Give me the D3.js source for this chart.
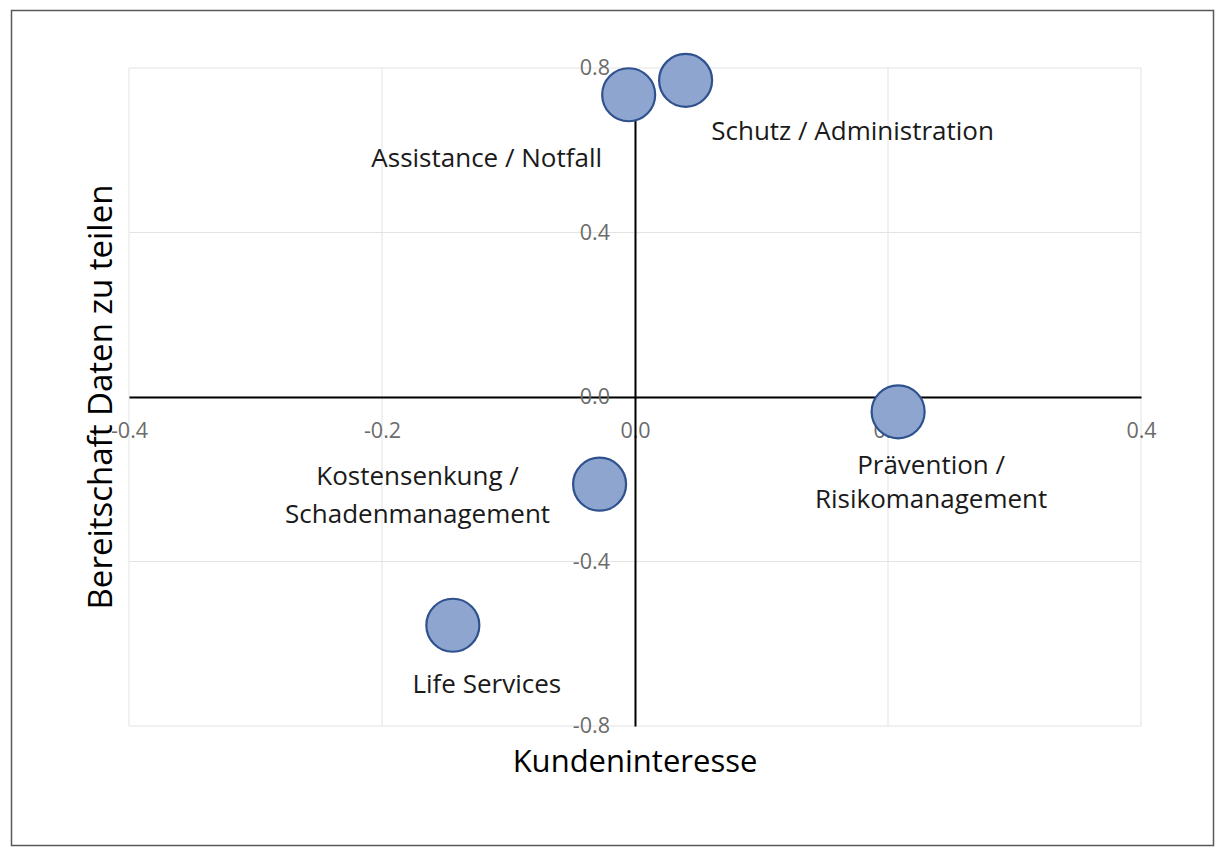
<!DOCTYPE html>
<html><head><meta charset="utf-8">
<script src="https://cdn.jsdelivr.net/npm/d3@7"></script>
<style>body{margin:0;background:#fff;} svg{display:block;font-family:"Open Sans", sans-serif;}</style>
</head><body>
<svg id="chart" width="1225" height="855"></svg>
<script>
// ---- data ----
const names = ["Assistance / Notfall","Schutz / Administration","Prävention / Risikomanagement","Kostensenkung / Schadenmanagement","Life Services"];
const xValues = [-0.005, 0.040, 0.208, -0.028, -0.144];
const yValues = [0.735, 0.770, -0.036, -0.212, -0.555];
const labelLines = [["Assistance / Notfall"],["Schutz / Administration"],["Prävention /","Risikomanagement"],["Kostensenkung /","Schadenmanagement"],["Life Services"]];
const xTicks = [-0.4,-0.2,0.0,0.2,0.4];
const yTicks = [-0.8,-0.4,0.0,0.4,0.8];

// ---- layout (label placement relative to bubble, px) ----
const labelLayout = [
  {dx:-142, dy:72, gap:0},
  {dx:167, dy:60, gap:0},
  {dx:33, dy:62, gap:34},
  {dx:-182, dy:1, gap:38},
  {dx:34, dy:68, gap:0}
];

const svg = d3.select("#chart");
const x = d3.scaleLinear().domain([-0.4,0.4]).range([129,1141]);
const y = d3.scaleLinear().domain([-0.8,0.8]).range([726,68]);

svg.append("rect").attr("x",11.5).attr("y",10.5).attr("width",1202).attr("height",835)
  .attr("fill","#fff").attr("stroke","#595959").attr("stroke-width",1.5);

// gridlines
svg.append("g").selectAll("line").data(xTicks).join("line")
  .attr("x1",d=>x(d)).attr("x2",d=>x(d)).attr("y1",y(0.8)).attr("y2",y(-0.8))
  .attr("stroke","#e3e3e3").attr("stroke-width",1);
svg.append("g").selectAll("line").data(yTicks).join("line")
  .attr("y1",d=>y(d)).attr("y2",d=>y(d)).attr("x1",x(-0.4)).attr("x2",x(0.4))
  .attr("stroke","#e3e3e3").attr("stroke-width",1);

// axes through origin
const fmt = d => d3.format(".1f")(d).replace("\u2212","-");
const xAxis = d3.axisBottom(x).tickValues(xTicks).tickFormat(fmt).tickSize(0).tickPadding(26);
const gx = svg.append("g").attr("transform",`translate(0,${y(0)})`).call(xAxis);
gx.select(".domain").attr("stroke","#000").attr("stroke-width",2);
gx.selectAll("text").attr("fill","#6b6b6b").style("font-size","21.5px").style("font-family","'Open Sans', sans-serif");

const yAxis = d3.axisLeft(y).tickValues(yTicks).tickFormat(fmt).tickSize(0).tickPadding(25);
const gy = svg.append("g").attr("transform",`translate(${x(0)},0)`).call(yAxis);
gy.select(".domain").attr("stroke","#000").attr("stroke-width",2);
gy.selectAll("text").attr("fill","#6b6b6b").style("font-size","21.5px").style("font-family","'Open Sans', sans-serif");

// bubbles
const data = names.map((n,i)=>({n, x:xValues[i], y:yValues[i], lines:labelLines[i], L:labelLayout[i]}));
svg.append("g").selectAll("circle").data(data).join("circle")
  .attr("cx",d=>x(d.x)).attr("cy",d=>y(d.y)).attr("r",26.5)
  .attr("fill","#8ea5cf").attr("stroke","#2f528f").attr("stroke-width",2.2);

// labels
const lg = svg.append("g").selectAll("text").data(data).join("text")
  .attr("text-anchor","middle").attr("fill","#1a1a1a").style("font-size","26px")
  .attr("x",d=>x(d.x)+d.L.dx).attr("y",d=>y(d.y)+d.L.dy);
lg.selectAll("tspan").data(d=>d.lines.map((l,i)=>({l,i,d}))).join("tspan")
  .attr("x",t=>x(t.d.x)+t.d.L.dx).attr("dy",t=>t.i===0?0:t.d.L.gap).text(t=>t.l);

// axis titles
svg.append("text").attr("x",635).attr("y",772).attr("text-anchor","middle")
  .style("font-size","31px").attr("fill","#000").text("Kundeninteresse");
svg.append("text").attr("transform","translate(112,397) rotate(-90)").attr("text-anchor","middle")
  .style("font-size","33px").attr("fill","#000").text("Bereitschaft Daten zu teilen");
</script>
</body></html>
